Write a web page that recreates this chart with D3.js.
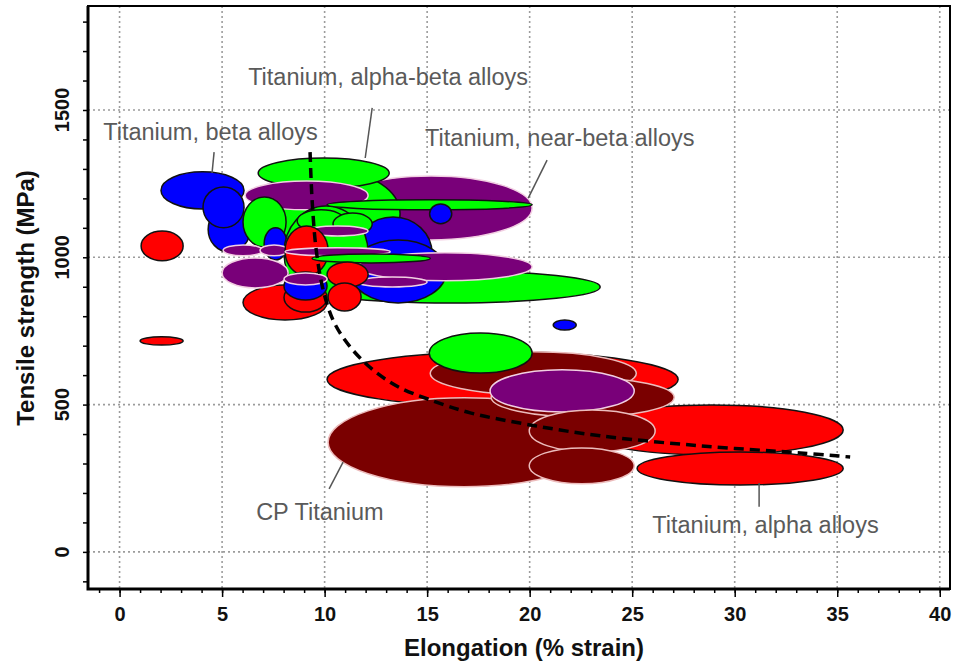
<!DOCTYPE html>
<html>
<head>
<meta charset="utf-8">
<script src="https://cdn.jsdelivr.net/npm/d3@7"></script>
<style>
  html, body { margin: 0; padding: 0; background: #fff; }
  svg { display: block; font-family: "Liberation Sans", Arial, Helvetica, sans-serif; }
</style>
</head>
<body>
<svg id="chart" width="954" height="664"></svg>
<script>
// Property envelopes: [drawOrder, elongation low, elongation high, strength low (MPa), strength high (MPa)]
const nearBetaAlloys = [
  [1, 10.27, 20.12, 1059, 1276],
  [4, 6.12, 12.12, 1161, 1259],
  [16, 9.15, 12.12, 1072, 1106],
  [17, 11.59, 20.12, 920, 1015],
  [21, 5.00, 8.22, 896, 998],
  [22, 5.05, 7.00, 1005, 1042],
  [23, 6.85, 8.22, 1005, 1042],
  [25, 8.07, 13.20, 1005, 1032],
  [27, 11.59, 15.00, 899, 933],
  [31, 8.02, 10.12, 906, 947],
  [42, 18.07, 25.10, 475, 618]
];
const alphaBetaAlloys = [
  [2, 7.44, 13.68, 1005, 1290],
  [3, 6.76, 13.15, 1235, 1337],
  [8, 6.02, 8.12, 1035, 1205],
  [10, 8.80, 23.44, 845, 954],
  [13, 8.02, 12.12, 855, 1174],
  [14, 8.66, 11.00, 1086, 1161],
  [15, 10.41, 12.32, 1076, 1150],
  [18, 10.12, 20.12, 1161, 1195],
  [26, 9.39, 15.15, 981, 1011],
  [40, 15.10, 20.12, 607, 743]
];
const betaAlloys = [
  [5, 2.02, 6.07, 1164, 1290],
  [6, 4.32, 6.37, 1018, 1171],
  [7, 4.07, 6.07, 1100, 1239],
  [9, 7.05, 8.17, 991, 1100],
  [11, 11.44, 15.24, 889, 1137],
  [12, 11.24, 15.93, 845, 1059],
  [19, 15.12, 16.20, 1114, 1181],
  [30, 8.02, 10.12, 855, 950],
  [35, 21.15, 22.27, 753, 787]
];
const alphaAlloys = [
  [20, 6.02, 10.12, 787, 906],
  [24, 8.07, 10.17, 937, 1106],
  [28, 10.12, 12.12, 899, 984],
  [29, 8.02, 10.12, 814, 913],
  [32, 10.17, 11.78, 818, 913],
  [33, 1.05, 3.10, 988, 1089],
  [34, 1.00, 3.10, 702, 730],
  [36, 10.12, 27.24, 492, 679],
  [38, 22.46, 35.29, 329, 499],
  [45, 25.24, 35.29, 227, 339]
];
const cpTitanium = [
  [37, 10.17, 23.44, 221, 523],
  [39, 15.15, 25.20, 533, 679],
  [41, 18.12, 27.05, 458, 591],
  [43, 19.98, 26.12, 339, 482],
  [44, 19.98, 25.10, 231, 353]
];

// Strength / ductility trade-off guide line
const trendElongation = [9.29, 9.39, 9.59, 9.93, 10.41, 10.99, 11.73, 12.61, 13.68, 15.15, 17.10, 20.02, 23.44, 28.32, 33.20, 35.63];
const trendStrength   = [1357, 1194, 1025, 889, 787, 719, 658, 604, 557, 516, 472, 431, 394, 360, 336, 322];

const xTickValues = [0, 5, 10, 15, 20, 25, 30, 35, 40];
const yTickValues = [0, 500, 1000, 1500];

// Family labels with leader lines (data coordinates)
const familyLabels = [
  { text: "Titanium, alpha-beta alloys", at: [6.27, 1612], leader: [[12.32, 1507], [11.98, 1337]] },
  { text: "Titanium, beta alloys",       at: [-0.80, 1425], leader: [[4.61, 1357], [4.51, 1286]] },
  { text: "Titanium, near-beta alloys",  at: [14.90, 1405], leader: [[20.85, 1330], [19.93, 1201]] },
  { text: "CP Titanium",                 at: [6.66, 136],  leader: [[10.90, 305], [10.22, 214]] },
  { text: "Titanium, alpha alloys",      at: [25.98, 92],  leader: [[31.19, 234], [31.19, 153]] }
];

const familyStyle = {
  nearBeta:  { fill: "#790079", stroke: "#f2cfe2" },
  alphaBeta: { fill: "#00ff00", stroke: "#111" },
  beta:      { fill: "#0000ff", stroke: "#111" },
  alpha:     { fill: "#ff0000", stroke: "#111" },
  cp:        { fill: "#7a0000", stroke: "#ecbcbc" }
};

const plot = { left: 88, right: 950, top: 6, bottom: 589 };

const x = d3.scaleLinear().domain([-1.54, 40.5]).range([plot.left, plot.right]);
const y = d3.scaleLinear().domain([-126, 1853]).range([plot.bottom, plot.top]);

const svg = d3.select("#chart");

// grid
const grid = svg.append("g").attr("stroke", "#9c9c9c").attr("stroke-width", 1.6)
  .attr("stroke-dasharray", "2,3");
grid.selectAll("line.v").data(xTickValues).join("line")
  .attr("x1", d => x(d)).attr("x2", d => x(d))
  .attr("y1", plot.top).attr("y2", plot.bottom);
grid.selectAll("line.h").data(yTickValues).join("line")
  .attr("y1", d => y(d)).attr("y2", d => y(d))
  .attr("x1", plot.left).attr("x2", plot.right);

// envelopes, painted in draw order
const envelopes = [
  ...nearBetaAlloys.map(r => ({ fam: "nearBeta", r })),
  ...alphaBetaAlloys.map(r => ({ fam: "alphaBeta", r })),
  ...betaAlloys.map(r => ({ fam: "beta", r })),
  ...alphaAlloys.map(r => ({ fam: "alpha", r })),
  ...cpTitanium.map(r => ({ fam: "cp", r }))
].sort((a, b) => a.r[0] - b.r[0]);

svg.append("g").selectAll("ellipse").data(envelopes).join("ellipse")
  .attr("cx", d => x((d.r[1] + d.r[2]) / 2))
  .attr("cy", d => y((d.r[3] + d.r[4]) / 2))
  .attr("rx", d => (x(d.r[2]) - x(d.r[1])) / 2)
  .attr("ry", d => (y(d.r[3]) - y(d.r[4])) / 2)
  .attr("fill", d => familyStyle[d.fam].fill)
  .attr("stroke", d => familyStyle[d.fam].stroke)
  .attr("stroke-width", 1.5);

// trade-off curve
svg.append("path")
  .datum(trendElongation.map((e, i) => [e, trendStrength[i]]))
  .attr("d", d3.line().curve(d3.curveCatmullRom).x(d => x(d[0])).y(d => y(d[1])))
  .attr("fill", "none").attr("stroke", "#000").attr("stroke-width", 3.5)
  .attr("stroke-dasharray", "10,6");

// family labels
const lab = svg.append("g");
familyLabels.forEach(l => {
  lab.append("line")
    .attr("x1", x(l.leader[0][0])).attr("y1", y(l.leader[0][1]))
    .attr("x2", x(l.leader[1][0])).attr("y2", y(l.leader[1][1]))
    .attr("stroke", "#555").attr("stroke-width", 1.5);
  lab.append("text")
    .attr("x", x(l.at[0])).attr("y", y(l.at[1]) + 8)
    .attr("fill", "#5a5a5a").attr("font-size", 23.5)
    .text(l.text);
});

// frame
svg.append("rect")
  .attr("x", plot.left).attr("y", plot.top)
  .attr("width", plot.right - plot.left).attr("height", plot.bottom - plot.top)
  .attr("fill", "none").attr("stroke", "#000").attr("stroke-width", 2);
svg.append("path")
  .attr("d", `M${plot.left},${plot.top}V${plot.bottom}H${plot.right}`)
  .attr("fill", "none").attr("stroke", "#000").attr("stroke-width", 3);

// x axis
const xAxisMinor = d3.axisBottom(x).tickValues(d3.range(-1, 41)).tickSize(4).tickFormat("");
const xAxisMajor = d3.axisBottom(x).tickValues(xTickValues).tickSize(8).tickPadding(10);
const gxm = svg.append("g").attr("transform", `translate(0,${plot.bottom})`).call(xAxisMinor);
const gx = svg.append("g").attr("transform", `translate(0,${plot.bottom})`).call(xAxisMajor);
[gxm, gx].forEach(g => {
  g.select(".domain").remove();
  g.selectAll(".tick line").attr("stroke", "#000").attr("stroke-width", 1.5);
});
gx.selectAll(".tick text")
  .attr("font-family", "'Liberation Sans', Arial, sans-serif")
  .attr("font-size", 20).attr("font-weight", "bold").attr("fill", "#111");

// y axis
const yAxisMinor = d3.axisLeft(y).tickValues(d3.range(-100, 1900, 100)).tickSize(5).tickFormat("");
const gym = svg.append("g").attr("transform", `translate(${plot.left},0)`).call(yAxisMinor);
gym.select(".domain").remove();
gym.selectAll(".tick line").attr("stroke", "#000").attr("stroke-width", 1.5);
svg.append("g").selectAll("text").data(yTickValues).join("text")
  .attr("transform", d => `translate(69,${y(d)}) rotate(-90)`)
  .attr("text-anchor", "middle")
  .attr("font-size", 20).attr("font-weight", "bold").attr("fill", "#111")
  .text(d => d);

// axis titles
svg.append("text")
  .attr("x", 524).attr("y", 656)
  .attr("text-anchor", "middle")
  .attr("font-size", 24).attr("font-weight", "bold").attr("fill", "#111")
  .text("Elongation (% strain)");
svg.append("text")
  .attr("transform", "translate(34,298) rotate(-90)")
  .attr("text-anchor", "middle")
  .attr("font-size", 24).attr("font-weight", "bold").attr("fill", "#111")
  .text("Tensile strength (MPa)");
</script>
</body>
</html>
